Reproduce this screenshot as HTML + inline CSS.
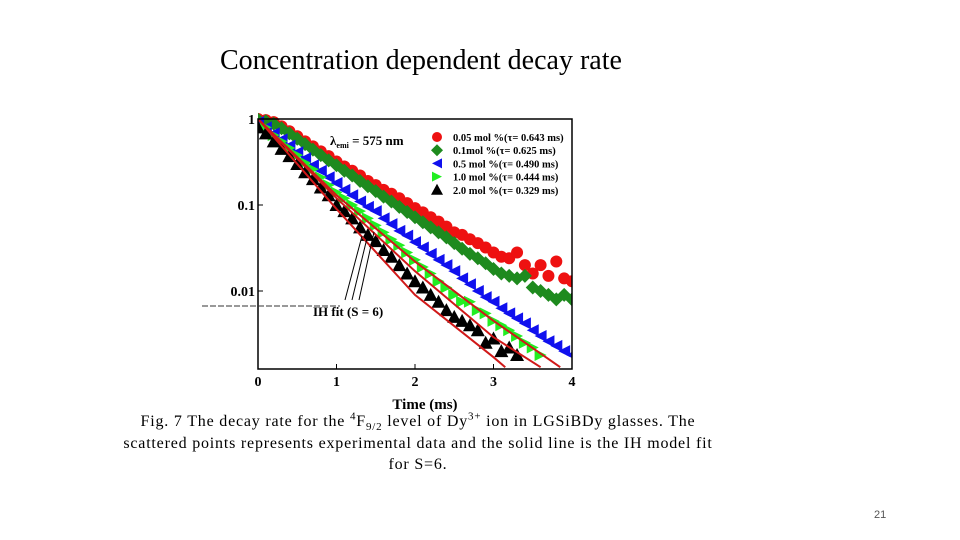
<!DOCTYPE html>
<html><head><meta charset="utf-8"><style>
body{margin:0;width:960px;height:540px;background:#fff;overflow:hidden;position:relative;font-family:"Liberation Serif",serif}
.t{position:absolute;white-space:nowrap}
sup,sub{line-height:0;font-size:11px}
.cap{position:absolute;left:68px;width:700px;text-align:center;font-size:16px;white-space:nowrap;letter-spacing:0.8px}
</style></head><body>
<div class="t" style="left:220px;top:45px;font-size:28px;">Concentration dependent decay rate</div>
<svg id="chart" width="960" height="540" style="position:absolute;left:0;top:0" font-family="Liberation Serif, serif"></svg>
<div>
<div class="cap" style="top:413px">Fig. 7 The decay rate for the <sup>4</sup>F<sub>9/2</sub> level of Dy<sup>3+</sup> ion in LGSiBDy glasses. The</div>
<div class="cap" style="top:434.5px">scattered points represents experimental data and the solid line is the IH model fit</div>
<div class="cap" style="top:456px">for S=6.</div>
</div>
<div class="t" style="left:874px;top:509px;font-size:11px;color:#555;font-family:'Liberation Sans',sans-serif">21</div>
<script>
const times=[0,0.1,0.2,0.3,0.4,0.5,0.6,0.7,0.8,0.9,1.0,1.1,1.2,1.3,1.4,1.5,1.6,1.7,1.8,1.9,2.0,2.1,2.2,2.3,2.4,2.5,2.6,2.7,2.8,2.9,3.0,3.1,3.2,3.3,3.4,3.5,3.6,3.7,3.8,3.9,4.0];
const redVals=[1.0,0.97,0.92,0.82,0.72,0.63,0.55,0.48,0.42,0.37,0.32,0.28,0.25,0.22,0.19,0.17,0.15,0.135,0.12,0.105,0.092,0.082,0.072,0.064,0.056,0.048,0.045,0.04,0.036,0.032,0.028,0.025,0.024,0.028,0.02,0.016,0.02,0.015,0.022,0.014,0.013];
const greenVals=[0.98,0.94,0.88,0.78,0.68,0.59,0.51,0.44,0.38,0.33,0.29,0.25,0.22,0.19,0.165,0.145,0.125,0.11,0.095,0.083,0.072,0.063,0.055,0.048,0.042,0.036,0.031,0.027,0.024,0.021,0.018,0.016,0.015,0.014,0.015,0.011,0.010,0.009,0.008,0.009,0.008];
const blueVals=[0.92,0.8,0.68,0.58,0.49,0.41,0.35,0.29,0.25,0.21,0.18,0.15,0.13,0.11,0.095,0.085,0.07,0.06,0.05,0.044,0.037,0.032,0.027,0.023,0.02,0.017,0.014,0.012,0.01,0.0085,0.0075,0.0063,0.0055,0.0048,0.0042,0.0035,0.003,0.0026,0.0023,0.002,0.0018];
const limeVals=[null,0.8,0.65,0.55,0.46,0.38,0.31,0.26,0.21,0.17,0.14,0.12,0.1,0.085,0.07,0.058,0.048,0.04,0.034,0.028,0.023,0.019,0.016,0.013,0.011,0.009,0.0075,0.0075,0.006,0.0055,0.0045,0.004,0.0035,0.003,0.0025,0.0022,0.0018,null,null,null,null];
const blackVals=[0.8,0.68,0.55,0.45,0.37,0.3,0.24,0.2,0.16,0.13,0.1,0.085,0.07,0.055,0.045,0.038,0.03,0.025,0.02,0.016,0.013,0.011,0.009,0.0075,0.006,0.005,0.0045,0.004,0.0035,0.0025,0.0028,0.002,0.0022,0.0018,null,null,null,null,null,null,null];
const fitATimes=[0,1,2,3,3.85], fitAVals=[1,0.13,0.022,0.0045,0.0013];
const fitBTimes=[0,1,2,3,3.6], fitBVals=[1,0.12,0.017,0.0029,0.0013];
const fitCTimes=[0,1,2,3,3.15], fitCVals=[1,0.09,0.009,0.0017,0.0013];
const xTicks=[0,1,2,3,4];
const yTicks=[1,0.1,0.01];
const yTickLabels=["1","0.1","0.01"];
const legendLabels=["0.05 mol %(τ= 0.643 ms)","0.1mol %(τ= 0.625 ms)","0.5 mol %(τ= 0.490 ms)","1.0 mol %(τ= 0.444 ms)","2.0 mol %(τ= 0.329 ms)"];

const NS="http://www.w3.org/2000/svg", svg=document.getElementById('chart');
const X0=258,X1=572,Y0=119,YB=369,DEC=86;
const xs=t=>X0+(t/4)*(X1-X0);
const ys=v=>Y0-Math.log10(v)*DEC;
function mk(tag,a,p){const e=document.createElementNS(NS,tag);for(const k in a)e.setAttribute(k,a[k]);(p||svg).appendChild(e);return e;}
const clip=mk('clipPath',{id:'pc'});mk('rect',{x:X0,y:Y0-8,width:X1-X0,height:YB-Y0+8},clip);
const plot=mk('g',{'clip-path':'url(#pc)'});
function marker(kind,color,x,y,p,s){
 s=s||6;let e;
 if(kind==='circle')e=mk('circle',{cx:x,cy:y,r:s,fill:color},p);
 else if(kind==='diamond')e=mk('polygon',{points:`${x},${y-s-1} ${x+s+1},${y} ${x},${y+s+1} ${x-s-1},${y}`,fill:color},p);
 else if(kind==='left')e=mk('polygon',{points:`${x-s},${y} ${x+s},${y-s} ${x+s},${y+s}`,fill:color},p);
 else if(kind==='right')e=mk('polygon',{points:`${x+s},${y} ${x-s},${y-s} ${x-s},${y+s}`,fill:color},p);
 else e=mk('polygon',{points:`${x},${y-s-1} ${x+s+1},${y+s} ${x-s-1},${y+s}`,fill:color},p);
 return e;}
const series=[[redVals,'#ee1111','circle','series-0-05'],[greenVals,'#1e8a1e','diamond','series-0-1'],[blueVals,'#1010ee','left','series-0-5'],[limeVals,'#22ee22','right','series-1-0'],[blackVals,'#000','up','series-2-0']];
series.forEach(([vals,c,k,n])=>{const g=mk('g',{},plot);


vals.forEach((v,i)=>{if(v==null)return;const m=marker(k,c,xs(times[i]),ys(v),g);

});});
[[fitATimes,fitAVals,'fit-line-a'],[fitBTimes,fitBVals,'fit-line-b'],[fitCTimes,fitCVals,'fit-line-c']].forEach(([T,V,n])=>{
 const l=mk('polyline',{points:T.map((t,i)=>xs(t)+','+ys(V[i])).join(' '),fill:'none',stroke:'#d01818','stroke-width':2},plot);
 
 });
const box=mk('rect',{x:X0,y:Y0,width:X1-X0,height:YB-Y0,fill:'none',stroke:'#000','stroke-width':1.5});

xTicks.forEach(t=>{mk('line',{x1:xs(t),x2:xs(t),y1:YB,y2:YB-5,stroke:'#000'});
 const tx=mk('text',{x:xs(t),y:YB+17,'text-anchor':'middle','font-size':14,'font-weight':'bold'});tx.textContent=t;
 });
yTicks.forEach((v,i)=>{mk('line',{x1:X0,x2:X0+5,y1:ys(v),y2:ys(v),stroke:'#000'});
 const tx=mk('text',{x:X0-3,y:ys(v)+5,'text-anchor':'end','font-size':14,'font-weight':'bold'});tx.textContent=yTickLabels[i];
 });
const xt=mk('text',{x:425,y:409,'text-anchor':'middle','font-size':15,'font-weight':'bold'});xt.textContent='Time (ms)';

const lam=mk('text',{x:330,y:145,'font-size':13,'font-weight':'bold'});lam.innerHTML='λ<tspan font-size="8" dy="3">emi</tspan><tspan dy="-3"> = 575 nm</tspan>';

legendLabels.forEach((s,i)=>{const y=141+i*13.2;const k=series[i];
 const m=marker(k[2],k[1],437,y-4,svg,5);
 const tx=mk('text',{x:453,y:y,'font-size':10.5,'font-weight':'bold'});tx.textContent=s;
 });
[[345,300,362,236],[352,300,368,234],[359,300,374,232]].forEach(a=>{
 const l=mk('line',{x1:a[0],y1:a[1],x2:a[2],y2:a[3],stroke:'#000','stroke-width':1});
 });
const fl=mk('text',{x:313,y:316,'font-size':13,'font-weight':'bold'});fl.textContent='IH fit (S = 6)';

const junk=mk('line',{x1:202,x2:340,y1:306,y2:306,stroke:'#333','stroke-width':1,'stroke-dasharray':'6 2'});

</script>
</body></html>
